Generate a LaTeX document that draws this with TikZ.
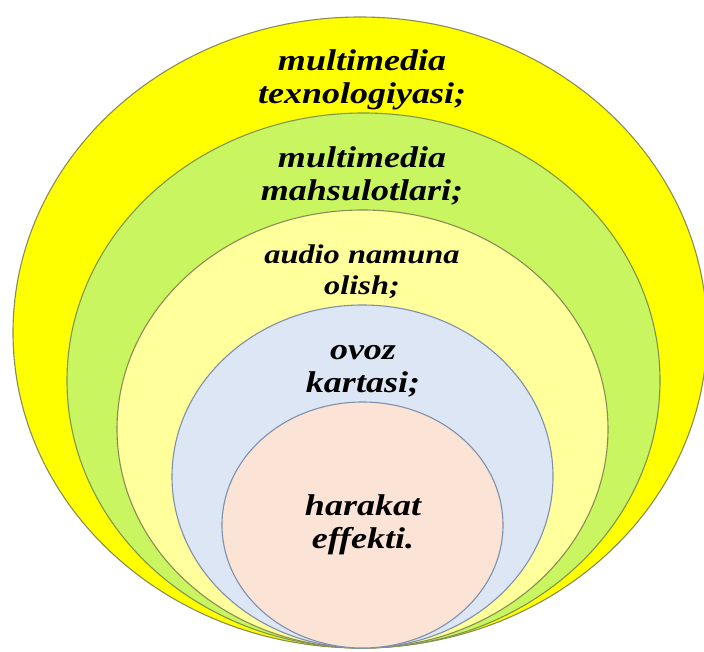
\documentclass[tikz,border=0pt]{standalone}
\usepackage{fontspec}
\newfontfamily\lblfont{Liberation Serif}[FakeStretch=1.2]
\definecolor{cYel}{HTML}{FFFF00}
\definecolor{cGrn}{HTML}{C8F560}
\definecolor{cLYel}{HTML}{FFFF9C}
\definecolor{cBlu}{HTML}{DCE6F4}
\definecolor{cPnk}{HTML}{FBE3D5}
\definecolor{lnOl}{HTML}{8A8C55}
\definecolor{lnBl}{HTML}{7F90AC}
\begin{document}
\begin{tikzpicture}[x=1pt,y=-1pt,
  ring/.style={line width=1.1pt},
  lbl/.style={align=center,inner sep=0pt,text=black,
    font=\lblfont\bfseries\itshape\fontsize{30}{33}\selectfont},
  lblsmall/.style={lbl,font=\lblfont\bfseries\itshape\fontsize{27}{31}\selectfont}]
\useasboundingbox (0,0) rectangle (704,652);
\begin{scope}
\clip (0,0) rectangle (704,652);
\draw[ring,draw=lnOl,fill=cYel] (360,332.5) ellipse [x radius=347,y radius=315.5];
\draw[ring,draw=lnOl!90!green,fill=cGrn] (363.5,380.5) ellipse [x radius=296.5,y radius=267.5];
\draw[ring,draw=lnOl,fill=cLYel] (362.5,429) ellipse [x radius=245.5,y radius=219];
\draw[ring,draw=lnBl,fill=cBlu] (362.5,476.5) ellipse [x radius=190.5,y radius=171.5];
\draw[ring,draw=lnBl,fill=cPnk] (362.5,525) ellipse [x radius=140.5,y radius=123];
\end{scope}
\node[lbl] (t1) at (362,80) {multimedia\\texnologiyasi;};
\node[lbl] (t2) at (362,176) {multimedia\\mahsulotlari;};
\node[lblsmall] (t3) at (362,272) {audio namuna\\olish;};
\node[lbl] (t4) at (363,371) {ovoz\\kartasi;};
\node[lbl] (t5) at (363,525) {harakat\\effekti.};
\end{tikzpicture}
\end{document}
